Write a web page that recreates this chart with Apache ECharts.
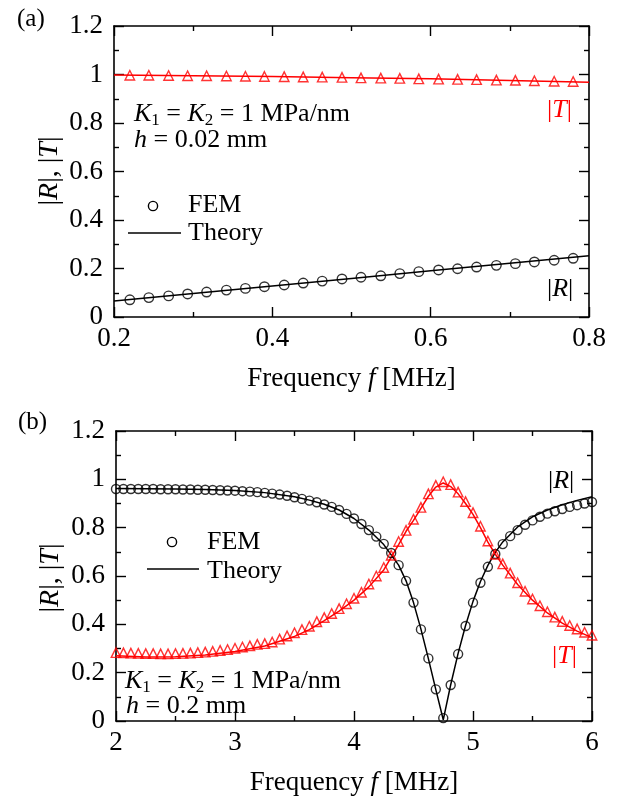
<!DOCTYPE html>
<html><head><meta charset="utf-8">
<script src="https://cdn.jsdelivr.net/npm/echarts@6/dist/echarts.min.js"></script>
<style>html,body{margin:0;padding:0;background:#fff}#c{width:618px;height:804px}</style>
</head><body><div id="c"></div>
<script>
// ---------- Panel (a) data ----------
const fA_fem = [0.220,0.244,0.269,0.293,0.317,0.342,0.366,0.390,0.415,0.439,0.463,0.488,0.512,0.537,0.561,0.585,0.610,0.634,0.658,0.683,0.707,0.731,0.756,0.780];
const rA_fem = [0.071,0.080,0.087,0.095,0.103,0.111,0.118,0.125,0.132,0.140,0.148,0.157,0.164,0.170,0.179,0.187,0.194,0.199,0.206,0.213,0.220,0.227,0.234,0.242];
const tA_fem = [0.997,0.997,0.996,0.995,0.995,0.994,0.993,0.992,0.991,0.990,0.989,0.988,0.986,0.985,0.984,0.982,0.981,0.980,0.979,0.977,0.976,0.974,0.972,0.971];
const fA_th = [0.2,0.3,0.4,0.5,0.6,0.7,0.8];
const rA_th = [0.066,0.097,0.128,0.159,0.191,0.222,0.253];
const tA_th = [0.998,0.995,0.992,0.987,0.982,0.975,0.968];
const xTicksA = [0.2,0.4,0.6,0.8];

// ---------- Panel (b) data ----------
const fB_fem = [2,2.0625,2.125,2.1875,2.25,2.3125,2.375,2.4375,2.5,2.5625,2.625,2.6875,2.75,2.8125,2.875,2.9375,3,3.0625,3.125,3.1875,3.25,3.3125,3.375,3.4375,3.5,3.5625,3.625,3.6875,3.75,3.8125,3.875,3.9375,4,4.0625,4.125,4.1875,4.25,4.3125,4.375,4.4375,4.5,4.5625,4.625,4.6875,4.75,4.8125,4.875,4.9375,5,5.0625,5.125,5.1875,5.25,5.3125,5.375,5.4375,5.5,5.5625,5.625,5.6875,5.75,5.8125,5.875,5.9375,6];
const rB_fem = [0.960,0.960,0.960,0.960,0.960,0.960,0.959,0.959,0.959,0.958,
  0.958,0.957,0.957,0.956,0.955,0.954,0.953,0.951,0.949,0.947,
  0.944,0.941,0.937,0.932,0.926,0.919,0.912,0.905,0.896,0.886,
  0.873,0.857,0.838,0.815,0.790,0.763,0.733,0.695,0.645,0.580,
  0.490,0.379,0.259,0.131,0.012,0.149,0.277,0.393,0.490,0.572,
  0.638,0.691,0.732,0.765,0.790,0.812,0.830,0.845,0.858,0.868,
  0.877,0.886,0.893,0.900,0.906];
const tB_fem = [0.283,0.282,0.281,0.280,0.279,0.279,0.278,0.278,0.279,0.280,
  0.281,0.283,0.285,0.288,0.292,0.296,0.301,0.306,0.311,0.317,
  0.320,0.327,0.339,0.352,0.365,0.378,0.392,0.411,0.428,0.445,
  0.465,0.485,0.508,0.533,0.567,0.600,0.635,0.686,0.743,0.789,
  0.835,0.884,0.940,0.975,0.990,0.978,0.947,0.908,0.862,0.806,
  0.745,0.690,0.650,0.612,0.572,0.537,0.505,0.477,0.452,0.430,
  0.412,0.395,0.381,0.367,0.355];
const fB_th = [2.0,2.25,2.5,2.75,3.0,3.25,3.5,3.625,3.75,3.875,4.0,4.125,4.25,4.375,4.4375,4.5,4.5625,4.625,4.6875,4.75,4.8125,4.875,4.9375,5.0,5.0625,5.125,5.1875,5.25,5.375,5.5,5.625,5.75,5.875,6.0];
const rB_th = [0.962,0.961,0.960,0.958,0.954,0.945,0.928,0.914,0.897,0.873,0.838,0.790,0.730,0.645,0.580,0.490,0.380,0.258,0.130,0.005,0.150,0.280,0.395,0.495,0.577,0.644,0.698,0.741,0.803,0.845,0.873,0.895,0.913,0.928];
const tB_th = [0.270,0.265,0.266,0.273,0.288,0.310,0.350,0.378,0.415,0.455,0.500,0.555,0.625,0.730,0.785,0.830,0.880,0.930,0.968,0.985,0.970,0.940,0.900,0.855,0.800,0.740,0.690,0.645,0.565,0.500,0.447,0.405,0.372,0.345];
const yTicks = [0,0.2,0.4,0.6,0.8,1,1.2];

// ---------- helpers ----------
const FONT = 'Liberation Serif';
const RED = '#ff0000';
const zip = (xs, ys) => xs.map((x, i) => [x, ys[i]]);
const fmt = v => String(+v.toFixed(1));

function xAxis(gi, min, max, interval, position, showLabel) {
  return {
    type: 'value', gridIndex: gi, position, min, max, interval,
    axisLine: {show: true, onZero: false, lineStyle: {color: '#000', width: 1.6}},
    axisTick: {show: true, inside: true, length: 10, lineStyle: {color: '#000', width: 1.4}},
    minorTick: {show: true, splitNumber: 2, length: 5, lineStyle: {color: '#000', width: 1.4}},
    splitLine: {show: false},
    axisLabel: {show: showLabel, fontFamily: FONT, fontSize: 27, color: '#000', margin: 8, formatter: fmt},
    name: showLabel ? 'Frequency {i|f} [MHz]' : '',
    nameLocation: 'middle', nameGap: 48,
    nameTextStyle: {fontFamily: FONT, fontSize: 27, color: '#000',
      rich: {i: {fontFamily: FONT, fontSize: 27, fontStyle: 'italic', color: '#000'}}}
  };
}
function yAxis(gi, position, showLabel) {
  return {
    type: 'value', gridIndex: gi, position, min: 0, max: 1.2, interval: 0.2,
    axisLine: {show: true, onZero: false, lineStyle: {color: '#000', width: 1.6}},
    axisTick: {show: true, inside: true, length: 10, lineStyle: {color: '#000', width: 1.4}},
    minorTick: {show: true, splitNumber: 2, length: 5, lineStyle: {color: '#000', width: 1.4}},
    splitLine: {show: false},
    axisLabel: {show: showLabel, fontFamily: FONT, fontSize: 27, color: '#000', margin: 11, formatter: fmt}
  };
}
function theory(xi, yi, data, color) {
  return {type: 'line', xAxisIndex: xi, yAxisIndex: yi, data, showSymbol: false, symbol: 'none',
    lineStyle: {color, width: 1.5}, silent: true, animation: false, z: 2};
}
function fem(xi, yi, data, symbol, color, size) {
  return {type: 'scatter', xAxisIndex: xi, yAxisIndex: yi, data, symbol, symbolSize: size,
    itemStyle: {color: 'rgba(0,0,0,0)', borderColor: color, borderWidth: 1.4},
    silent: true, animation: false, z: 3};
}

const richK = {
  i: {fontFamily: FONT, fontSize: 26, fontStyle: 'italic', color: '#000'},
  n: {fontFamily: FONT, fontSize: 26, color: '#000'},
  s: {fontFamily: FONT, fontSize: 17, color: '#000', padding: [14, 0, 0, 0]}
};
const richY = {
  i: {fontFamily: FONT, fontSize: 28, fontStyle: 'italic', color: '#000'}
};
function T(x, y, text, extra) {
  return {type: 'text', x, y, silent: true,
    style: Object.assign({text, fontFamily: FONT, fontSize: 26, fill: '#000', textVerticalAlign: 'middle', rich: richK}, extra || {})};
}
function legend(cx, cy, lx1, lx2, ly, tx, ty1, ty2) {
  return [
    {type: 'circle', shape: {cx, cy, r: 4.6}, style: {fill: 'none', stroke: '#000', lineWidth: 1.4}, silent: true},
    T(tx, ty1, 'FEM'),
    {type: 'line', shape: {x1: lx1, y1: ly, x2: lx2, y2: ly}, style: {stroke: '#000', lineWidth: 1.5}, silent: true},
    T(tx, ty2, 'Theory')
  ];
}
function yTitle(x, y) {
  return {type: 'text', x, y, rotation: Math.PI / 2, silent: true,
    style: {text: '|{i|R}|, |{i|T}|', fontFamily: FONT, fontSize: 28, fill: '#000', textAlign: 'center', textVerticalAlign: 'middle', rich: richY}};
}
function redT(x, y) {
  return {type: 'text', x, y, silent: true, style: {text: '|{r|T}|', fontFamily: FONT, fontSize: 26, fill: RED, textVerticalAlign: 'middle',
    rich: {r: {fontFamily: FONT, fontSize: 26, fontStyle: 'italic', color: RED}}}};
}

const option = {
  backgroundColor: '#fff',
  animation: false,
  grid: [
    {left: 114, top: 26, width: 475, height: 291},
    {left: 116, top: 431, width: 476, height: 290}
  ],
  xAxis: [
    xAxis(0, 0.2, 0.8, 0.2, 'bottom', true),
    xAxis(0, 0.2, 0.8, 0.2, 'top', false),
    xAxis(1, 2, 6, 1, 'bottom', true),
    xAxis(1, 2, 6, 1, 'top', false)
  ],
  yAxis: [
    yAxis(0, 'left', true),
    yAxis(0, 'right', false),
    yAxis(1, 'left', true),
    yAxis(1, 'right', false)
  ],
  series: [
    theory(0, 0, zip(fA_th, rA_th), '#000'),
    theory(0, 0, zip(fA_th, tA_th), RED),
    fem(0, 0, zip(fA_fem, rA_fem), 'circle', '#000', 9.5),
    fem(0, 0, zip(fA_fem, tA_fem), 'triangle', RED, 9.5),
    theory(2, 2, zip(fB_th, rB_th), '#000'),
    theory(2, 2, zip(fB_th, tB_th), RED),
    fem(2, 2, zip(fB_fem, rB_fem), 'circle', '#000', 9),
    fem(2, 2, zip(fB_fem, tB_fem), 'triangle', RED, 9.5)
  ],
  graphic: [
    T(17, 19, '(a)', {fontSize: 25}),
    T(18, 422, '(b)', {fontSize: 25}),
    yTitle(50, 171),
    yTitle(51, 578),
    T(134, 114, '{i|K}{s|1}{n| = }{i|K}{s|2}{n| = 1 MPa/nm}'),
    T(134, 140, '{i|h}{n| = 0.02 mm}'),
    T(125, 681, '{i|K}{s|1}{n| = }{i|K}{s|2}{n| = 1 MPa/nm}'),
    T(126, 706, '{i|h}{n| = 0.2 mm}'),
    ...legend(153, 206, 128, 181, 233, 188, 205, 233),
    ...legend(172, 542, 147, 199, 569, 207, 542, 571),
    redT(547, 110),
    T(547, 289, '|{i|R}|'),
    T(548, 481, '|{i|R}|'),
    redT(552, 656)
  ]
};
const chart = echarts.init(document.getElementById('c'), null, {renderer: 'canvas'});
chart.setOption(option);
</script>
</body></html>
